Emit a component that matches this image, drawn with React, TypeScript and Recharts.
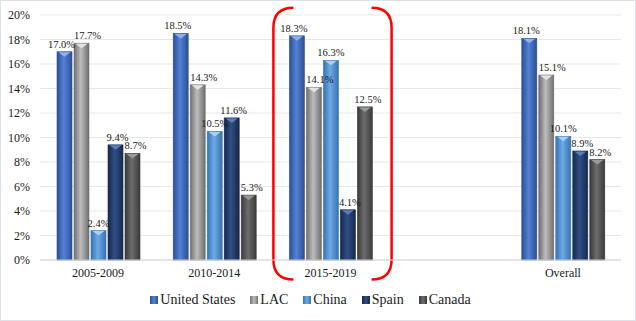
import {
  BarChart,
  Bar,
  XAxis,
  YAxis,
  CartesianGrid,
  LabelList,
  Legend,
  ReferenceArea,
} from 'recharts'

const periods = ['2005-2009', '2010-2014', '2015-2019', '', 'Overall']
const unitedStates = [17.0, 18.5, 18.3, null, 18.1]
const lac = [17.7, 14.3, 14.1, null, 15.1]
const china = [2.4, 10.5, 16.3, null, 10.1]
const spain = [9.4, 11.6, 4.1, null, 8.9]
const canada = [8.7, 5.3, 12.5, null, 8.2]
const yTicks = [0, 2, 4, 6, 8, 10, 12, 14, 16, 18, 20]

const FONT = "'Liberation Serif', 'Times New Roman', serif"

// edge / middle / top-cap colours for each series, plus label nudge
const series = [
  { key: 'us', name: 'United States', values: unitedStates, edge: '#2c4f94', mid: '#5382d6', cap: '#8fb0ea', dx: -3 },
  { key: 'lac', name: 'LAC', values: lac, edge: '#6f6f6f', mid: '#bdbdbd', cap: '#e4e4e4', dx: 6 },
  { key: 'china', name: 'China', values: china, edge: '#3574b3', mid: '#6eaae3', cap: '#a9d0f3', dx: 0 },
  { key: 'spain', name: 'Spain', values: spain, edge: '#17284d', mid: '#304f86', cap: '#5d7db5', dx: 2 },
  { key: 'canada', name: 'Canada', values: canada, edge: '#3a3a3a', mid: '#6d6d6d', cap: '#9a9a9a', dx: 3 },
]

const data = periods.map((p, i) => {
  const row: Record<string, any> = { period: p }
  series.forEach((s) => {
    row[s.key] = s.values[i]
  })
  return row
})

function Gradients() {
  return (
    <defs>
      {series.map((s) => (
        <linearGradient key={s.key} id={`grad-${s.key}`} x1="0" y1="0" x2="1" y2="0">
          <stop offset="0%" stopColor={s.edge} />
          <stop offset="45%" stopColor={s.mid} />
          <stop offset="100%" stopColor={s.edge} />
        </linearGradient>
      ))}
    </defs>
  )
}

const makeShape = (s: (typeof series)[number]) => (props: any) => {
  const { x, y, width, height } = props
  if (height == null || height <= 0) return <g />
  const capH = Math.min(5, height)
  return (
    <g>
      <rect x={x} y={y} width={width} height={height} fill={`url(#grad-${s.key})`} stroke={s.edge} strokeWidth={0.6} />
      <path
        d={`M${x + 1.5},${y + 0.5} L${x + width - 1.5},${y + 0.5} L${x + width / 2},${y + capH} Z`}
        fill={s.cap}
      />
    </g>
  )
}

const bracketShape = (props: any) => {
  const { x, y, width, height } = props
  const r = 20
  const l = x + 1
  const rr = x + width + 3
  const t = y
  const b = y + height
  return (
    <g fill="none" stroke="#ff0000" strokeWidth={2.5}>
      <path d={`M${l + r},${t} Q${l},${t} ${l},${t + r} L${l},${b - r} Q${l},${b} ${l + r},${b}`} />
      <path d={`M${rr - r},${t} Q${rr},${t} ${rr},${t + r} L${rr},${b - r} Q${rr},${b} ${rr - r},${b}`} />
    </g>
  )
}

function LegendContent() {
  return (
    <div
      style={{
        display: 'flex',
        justifyContent: 'center',
        alignItems: 'center',
        height: 22,
        fontFamily: FONT,
        fontSize: 14,
        color: '#1a1a1a',
      }}
    >
      {series.map((s) => (
        <div key={s.key} style={{ display: 'flex', alignItems: 'center', marginRight: 15 }}>
          <span
            style={{
              display: 'inline-block',
              width: 8,
              height: 8,
              marginRight: 2,
              background: `linear-gradient(90deg, ${s.edge}, ${s.mid}, ${s.edge})`,
            }}
          />
          <span>{s.name}</span>
        </div>
      ))}
    </div>
  )
}

export default function App() {
  return (
    <div
      style={{
        position: 'absolute',
        left: 0,
        top: 0,
        width: 634,
        height: 319,
        border: '1px solid #dde1e8',
        background: '#fff',
        fontFamily: FONT,
      }}
    >
      <BarChart
        width={634}
        height={319}
        data={data}
        margin={{ top: 14, right: 14, bottom: 9, left: 0 }}
        barSize={15}
        barGap={2}
      >
        <Gradients />
        <CartesianGrid vertical={false} stroke="#e3e7ee" strokeWidth={1.2} />
        <XAxis
          dataKey="period"
          height={29}
          tickLine={false}
          axisLine={{ stroke: '#d0d5de' }}
          tick={{ fontFamily: FONT, fontSize: 12, fill: '#1a1a1a' }}
          interval={0}
        />
        <YAxis
          width={39}
          domain={[0, 20]}
          ticks={yTicks}
          tickFormatter={(v) => `${v}%`}
          tickLine={false}
          axisLine={false}
          tickMargin={4}
          tick={{ fontFamily: FONT, fontSize: 12, fill: '#1a1a1a' }}
        />
        <ReferenceArea
          x1="2015-2019"
          x2="2015-2019"
          y1={-1.6}
          y2={20.6}
          ifOverflow="visible"
          shape={bracketShape}
        />
        {series.map((s) => (
          <Bar key={s.key} dataKey={s.key} name={s.name} isAnimationActive={false} shape={makeShape(s)}>
            <LabelList
              dataKey={s.key}
              position="top"
              offset={4}
              dx={s.dx}
              formatter={(v: any) => (v == null ? '' : `${Number(v).toFixed(1)}%`)}
              style={{ fontFamily: FONT, fontSize: 10.5, fill: '#1a1a1a' }}
            />
          </Bar>
        ))}
        <Legend
          verticalAlign="bottom"
          content={<LegendContent />}
          wrapperStyle={{ left: 0, width: 634, fontFamily: FONT }}
        />
      </BarChart>
    </div>
  )
}
